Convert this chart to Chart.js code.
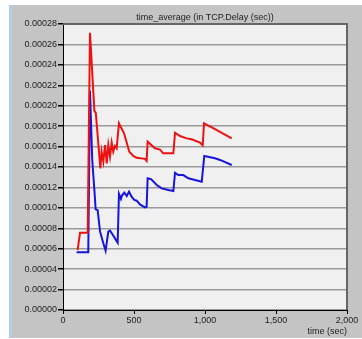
<!DOCTYPE html>
<html>
<head>
<meta charset="utf-8">
<script src="https://cdn.jsdelivr.net/npm/chart.js@4"></script>
<style>
  html, body { margin: 0; padding: 0; background: #fff; }
  #wrap { position: relative; width: 362px; height: 339px; }
  #frame { position: absolute; left: 9px; top: 5px; width: 350px; height: 333px;
           background: #c4c4c4; border-left: 3px solid #b3cbe3; }
  #chart { position: absolute; left: 0; top: 0; }
</style>
</head>
<body>
<div id="wrap">
  <div id="frame"></div>
  <canvas id="chart" width="362" height="339"></canvas>
</div>
<script>
const chartTitle = 'time_average (in TCP.Delay (sec))';
const xTitle = 'time (sec)';

// red series
const redTime = [103, 120, 174, 190, 221, 231, 263, 272, 284, 296, 308, 319, 331, 343, 354, 366, 378, 394, 430, 467,
  495, 518, 577, 589, 596, 648, 683, 706, 777, 789, 824, 871, 906, 965, 984, 993, 1061, 1188];
const redDelay = [0.0000587, 0.0000757, 0.0000757, 0.0002715, 0.000195, 0.000193, 0.0001387, 0.000155, 0.0001452, 0.0001615,
  0.0001436, 0.0001615, 0.0001501, 0.0001638, 0.000155, 0.0001606, 0.0001583, 0.0001828, 0.000173, 0.000155,
  0.0001508, 0.000149, 0.000148, 0.000146, 0.0001648, 0.0001583, 0.000157, 0.0001534, 0.0001534, 0.0001736,
  0.0001703, 0.000168, 0.0001671, 0.0001638, 0.0001612, 0.0001828, 0.0001779, 0.000168];

// blue series
const blueTime = [96, 178, 190, 206, 221, 230, 244, 261, 284, 300, 319, 331, 347, 366, 385, 394, 408, 415, 432, 449,
  465, 483, 502, 519, 542, 559, 577, 589, 596, 620, 660, 695, 742, 777, 789, 812, 847, 883, 930, 977,
  995, 1070, 1106, 1188];
const blueDelay = [0.0000565, 0.0000565, 0.0002147, 0.0001469, 0.0001175, 0.0000986, 0.0000977, 0.0000767, 0.0000653, 0.000058,
  0.0000767, 0.0000777, 0.0000744, 0.0000701, 0.0000659, 0.0001136, 0.0001087, 0.000112, 0.0001149, 0.0001116,
  0.0001159, 0.000111, 0.0001077, 0.000107, 0.0001034, 0.000102, 0.0001005, 0.000101, 0.0001289, 0.0001282,
  0.0001224, 0.0001191, 0.0001175, 0.0001165, 0.0001344, 0.0001321, 0.0001321, 0.0001289, 0.0001273, 0.0001256,
  0.0001508, 0.0001485, 0.0001469, 0.000142];

const toPoints = (xs, ys) => xs.map((x, i) => ({ x: x, y: ys[i] }));

const font = { family: 'Liberation Sans, Arial, sans-serif', size: 9 };

// plot background, dark top/right frame, and the title centred over the plot
const plotBox = {
  id: 'plotBox',
  beforeDraw(chart) {
    const { ctx, chartArea: a } = chart;
    ctx.save();
    ctx.fillStyle = '#f0f0f0';
    ctx.fillRect(a.left, a.top, a.right - a.left, a.bottom - a.top);
    ctx.restore();
  },
  afterDraw(chart) {
    const { ctx, chartArea: a } = chart;
    ctx.save();
    ctx.strokeStyle = '#666';
    ctx.lineWidth = 2;
    ctx.beginPath();
    ctx.moveTo(a.left, a.top);
    ctx.lineTo(a.right, a.top);
    ctx.lineTo(a.right, a.bottom);
    ctx.stroke();
    ctx.fillStyle = '#222';
    ctx.font = '9px "Liberation Sans", Arial, sans-serif';
    ctx.textAlign = 'center';
    ctx.textBaseline = 'middle';
    ctx.fillText(chartTitle, (a.left + a.right) / 2, a.top - 6);
    ctx.restore();
  }
};

new Chart(document.getElementById('chart'), {
  type: 'line',
  plugins: [plotBox],
  data: {
    datasets: [
      { data: toPoints(redTime, redDelay), borderColor: '#ee1111', borderWidth: 2, pointRadius: 0, tension: 0 },
      { data: toPoints(blueTime, blueDelay), borderColor: '#1515dd', borderWidth: 2, pointRadius: 0, tension: 0 }
    ]
  },
  options: {
    responsive: false,
    animation: false,
    layout: { padding: { left: 0, right: 15, top: 24, bottom: 0 } },
    plugins: {
      legend: { display: false },
      tooltip: { enabled: false },
      title: { display: false }
    },
    scales: {
      x: {
        type: 'linear', min: 0, max: 2000,
        afterFit: (s) => { s.height = 29; },
        ticks: { stepSize: 500, color: '#222', font: font, padding: 1, maxRotation: 0 },
        grid: { drawOnChartArea: false, tickLength: 4, tickColor: '#000' },
        border: { color: '#000', width: 1 },
        title: { display: true, text: xTitle, align: 'end', color: '#222', font: font, padding: { top: 0, bottom: 2 } }
      },
      y: {
        min: 0, max: 0.00028,
        afterFit: (s) => { s.width = 63; },
        ticks: { stepSize: 0.00002, color: '#222', font: font, padding: 1,
                 callback: (v) => v.toFixed(5) },
        grid: { color: '#9a9a9a', lineWidth: 1.5, tickLength: 5, tickColor: '#000' },
        border: { color: '#000', width: 1 }
      }
    }
  }
});
</script>
</body>
</html>
